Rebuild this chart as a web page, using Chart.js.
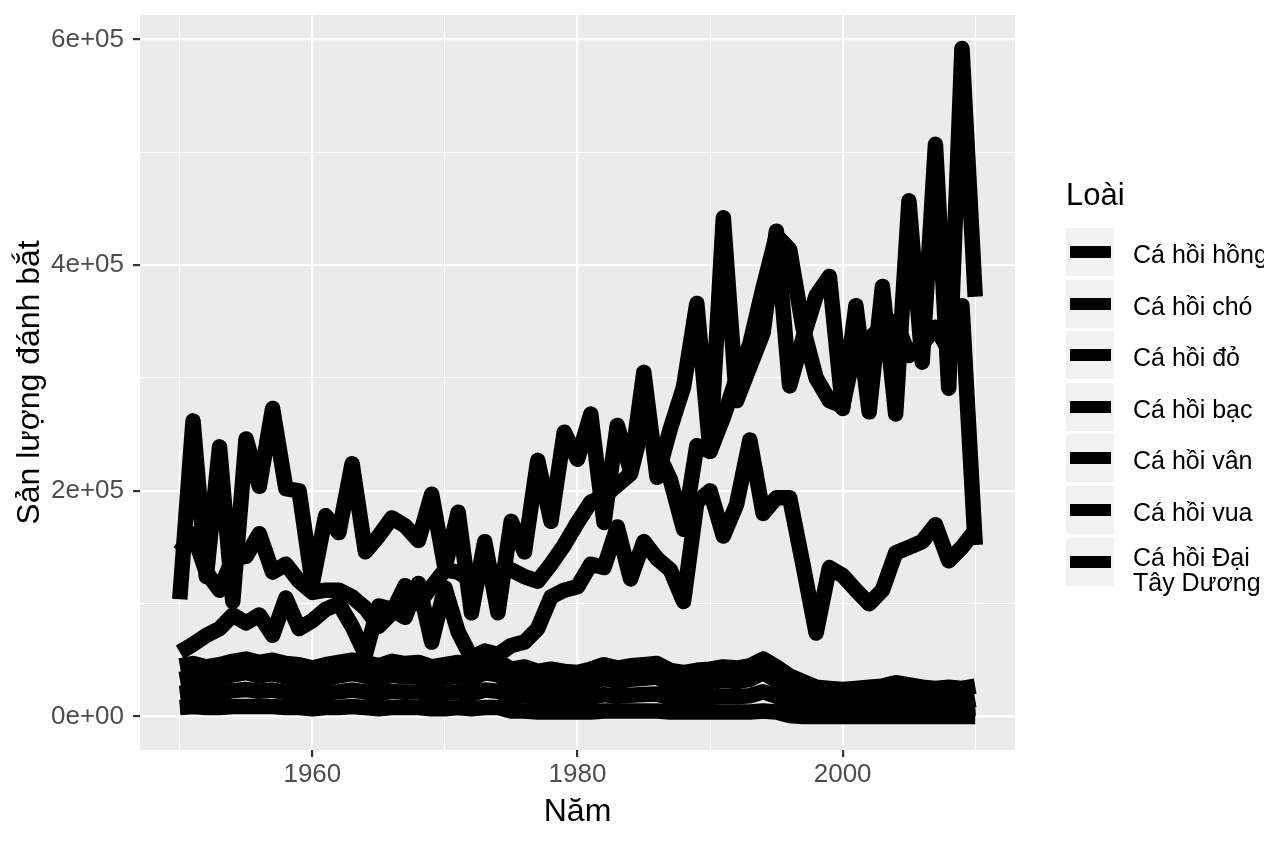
<!DOCTYPE html>
<html lang="vi">
<head>
<meta charset="utf-8">
<title>Sản lượng đánh bắt cá hồi</title>
<script src="https://cdn.jsdelivr.net/npm/chart.js@4.4.1/dist/chart.umd.min.js"></script>
<style>
    html, body { margin: 0; padding: 0; background: #fff; overflow: hidden; }
    #wrap { position: relative; width: 1264px; height: 848px; overflow: hidden;
            font-family: "Liberation Sans", Arial, sans-serif; }
    #chart { position: absolute; left: 0; top: 0; }
    .legend-title { position: absolute; left: 1066px; top: 180px; font-size: 31px; line-height: 30px; color: #000; }
    .key { position: absolute; left: 1066px; width: 48px; height: 48px; background: #f2f2f2; }
    .key i { position: absolute; left: 4px; right: 3px; top: 18px; height: 12px; background: #000; }
    .lab { position: absolute; left: 1133px; font-size: 25px; line-height: 24.7px; color: #000; white-space: nowrap; }
</style>
</head>
<body>
<div id="wrap">
    <canvas id="chart" width="1264" height="848"></canvas>
    <div id="legend"></div>
</div>
<script>
// data (tonnes)
const years = [1950, 1951, 1952, 1953, 1954, 1955, 1956, 1957, 1958, 1959,
    1960, 1961, 1962, 1963, 1964, 1965, 1966, 1967, 1968, 1969,
    1970, 1971, 1972, 1973, 1974, 1975, 1976, 1977, 1978, 1979,
    1980, 1981, 1982, 1983, 1984, 1985, 1986, 1987, 1988, 1989,
    1990, 1991, 1992, 1993, 1994, 1995, 1996, 1997, 1998, 1999,
    2000, 2001, 2002, 2003, 2004, 2005, 2006, 2007, 2008, 2009,
    2010];

const caHoiHong = [104000, 262000, 124000, 239000, 102000, 246000, 204000, 273000, 202000, 200000,
    118000, 178000, 163000, 224000, 146000, 160000, 176000, 169000, 156000, 197000,
    132000, 181000, 92000, 155000, 92000, 173000, 146000, 227000, 173000, 252000,
    228000, 268000, 172000, 258000, 218000, 305000, 212000, 255000, 292000, 366000,
    235000, 442000, 280000, 310000, 340000, 430000, 293000, 335000, 373000, 390000,
    273000, 364000, 270000, 381000, 268000, 457000, 314000, 507000, 291000, 592000,
    372000];

const caHoiCho = [146000, 162000, 128000, 112000, 140000, 142000, 162000, 128000, 135000, 120000,
    110000, 112000, 112000, 106000, 96000, 80000, 92000, 116000, 100000, 115000,
    130000, 128000, 120000, 130000, 128000, 130000, 124000, 120000, 135000, 152000,
    172000, 190000, 195000, 205000, 215000, 262000, 235000, 210000, 166000, 240000,
    235000, 265000, 300000, 330000, 380000, 426000, 414000, 345000, 300000, 280000,
    275000, 330000, 335000, 345000, 350000, 320000, 330000, 345000, 325000, 364000,
    152000];

const caHoiDo = [57000, 64000, 72000, 78000, 90000, 83000, 90000, 72000, 105000, 78000,
    85000, 95000, 100000, 80000, 55000, 98000, 95000, 88000, 118000, 66000,
    114000, 75000, 52000, 58000, 55000, 63000, 66000, 78000, 106000, 112000,
    115000, 135000, 132000, 168000, 122000, 155000, 140000, 130000, 102000, 190000,
    200000, 160000, 188000, 245000, 180000, 194000, 194000, 135000, 74000, 132000,
    125000, 112000, 100000, 112000, 145000, 150000, 155000, 170000, 138000, 150000,
    165000];

const caHoiBac = [45000, 47000, 44000, 46000, 49000, 51000, 48000, 50000, 47000, 46000,
    43000, 46000, 48000, 50000, 48000, 45000, 49000, 47000, 48000, 44000,
    46000, 48000, 45000, 51000, 49000, 42000, 44000, 40000, 42000, 40000,
    39000, 42000, 46000, 43000, 45000, 46000, 47000, 41000, 39000, 41000,
    42000, 44000, 43000, 45000, 51000, 44000, 36000, 31000, 26000, 25000,
    24000, 25000, 26000, 27000, 30000, 28000, 26000, 25000, 26000, 25000,
    27000];

const caHoiVan = [20500, 22000, 20000, 21000, 23000, 24000, 22500, 23500, 21500, 21000,
    19000, 21000, 22000, 23500, 22000, 20000, 22500, 21500, 22000, 19500,
    20500, 22000, 20000, 23500, 22500, 17500, 18500, 16000, 17000, 16000,
    15500, 17000, 19500, 18000, 19000, 19500, 20000, 16500, 15500, 16500,
    17000, 18000, 17500, 18500, 22000, 18000, 12500, 9500, 7000, 6500,
    6000, 6500, 7000, 7500, 9000, 8000, 7000, 6500, 7000, 6500,
    7500];

const caHoiVua = [33000, 35000, 32000, 34000, 37000, 39000, 36000, 38000, 35000, 34000,
    31000, 34000, 36000, 38000, 36000, 33000, 37000, 35000, 36000, 32000,
    34000, 36000, 33000, 39000, 37000, 30000, 32000, 28000, 30000, 28000,
    27000, 30000, 34000, 31000, 33000, 34000, 35000, 29000, 27000, 29000,
    30000, 32000, 31000, 33000, 39000, 32000, 24000, 19000, 14000, 13000,
    12000, 13000, 14000, 15000, 18000, 16000, 14000, 13000, 14000, 13000,
    15000];

const caHoiDaiTayDuong = [8000, 9000, 8000, 8000, 9000, 9000, 9000, 9000, 8000, 8000,
    7000, 8000, 8000, 9000, 8000, 7000, 8000, 8000, 8000, 7000,
    7000, 8000, 7000, 8000, 8000, 5000, 5000, 4000, 4000, 4000,
    4000, 4000, 5000, 5000, 5000, 5000, 5000, 4000, 4000, 4000,
    4000, 4000, 4000, 4000, 5000, 4000, 1000, 0, 0, 0,
    0, 0, 0, 0, 0, 0, 0, 0, 0, 0,
    0];

const speciesNames = ["Cá hồi hồng", "Cá hồi chó", "Cá hồi đỏ", "Cá hồi bạc",
    "Cá hồi vân", "Cá hồi vua", "Cá hồi Đại Tây Dương"];
const speciesValues = [caHoiHong, caHoiCho, caHoiDo, caHoiBac, caHoiVan, caHoiVua, caHoiDaiTayDuong];

const xTicks = [1950, 1960, 1970, 1980, 1990, 2000, 2010];
const xTickLabels = ["", "1960", "", "1980", "", "2000", ""];
const yTicks = [0, 100000, 200000, 300000, 400000, 500000, 600000];
const yTickLabels = ["0e+00", "", "2e+05", "", "4e+05", "", "6e+05"];

// ggplot-like 5% expansion of the data range
const allValues = speciesValues.flat();
const yMin = Math.min(...allValues), yMax = Math.max(...allValues);
const yPad = (yMax - yMin) * 0.05;
const xPad = (years[years.length - 1] - years[0]) * 0.05;

Chart.defaults.font.family = '"Liberation Sans", Arial, sans-serif';

const panelBg = {
    id: "panelBg",
    beforeDraw(chart) {
        const { ctx, chartArea: a } = chart;
        ctx.save();
        ctx.fillStyle = "#ebebeb";
        ctx.fillRect(a.left, a.top, a.right - a.left, a.bottom - a.top);
        ctx.restore();
    }
};

const isLabelled = (labels, ticks, value) => labels[ticks.indexOf(value)] !== "";

const ctx = document.getElementById("chart").getContext("2d");

new Chart(ctx, {
    type: "line",
    data: {
        datasets: speciesNames.map((name, i) => ({
            label: name,
            data: years.map((yr, j) => ({ x: yr, y: speciesValues[i][j] })),
            borderColor: "#000",
            borderWidth: 15.5,
            borderJoinStyle: "round",
            borderCapStyle: "butt",
            pointRadius: 0,
            tension: 0,
            fill: false
        }))
    },
    options: {
        responsive: false,
        animation: false,
        events: [],
        layout: { padding: { left: 0, right: 249, top: 15, bottom: 0 } },
        scales: {
            x: {
                type: "linear",
                min: years[0] - xPad,
                max: years[years.length - 1] + xPad,
                afterBuildTicks: s => { s.ticks = xTicks.map(v => ({ value: v })); },
                afterFit: s => { s.height = 98; s.paddingLeft = 0; s.paddingRight = 0; },
                ticks: {
                    callback: v => xTickLabels[xTicks.indexOf(v)],
                    color: "#4d4d4d",
                    font: { size: 26 },
                    padding: 2,
                    maxRotation: 0,
                    autoSkip: false
                },
                grid: {
                    color: "#fff",
                    lineWidth: c => (c.tick && isLabelled(xTickLabels, xTicks, c.tick.value)) ? 2.2 : 1.1,
                    tickColor: c => (c.tick && isLabelled(xTickLabels, xTicks, c.tick.value)) ? "#333" : "rgba(0,0,0,0)",
                    tickLength: 7,
                    tickWidth: 2.2
                },
                border: { display: false },
                title: {
                    display: true,
                    text: "Năm",
                    color: "#000",
                    font: { size: 32 },
                    padding: { top: 0, bottom: 17 }
                }
            },
            y: {
                min: yMin - yPad,
                max: yMax + yPad,
                afterBuildTicks: s => { s.ticks = yTicks.map(v => ({ value: v })); },
                afterFit: s => { s.width = 140; s.paddingTop = 0; s.paddingBottom = 0; },
                ticks: {
                    callback: v => yTickLabels[yTicks.indexOf(v)],
                    color: "#4d4d4d",
                    font: { size: 26 },
                    padding: 9,
                    autoSkip: false
                },
                grid: {
                    color: "#fff",
                    lineWidth: c => (c.tick && isLabelled(yTickLabels, yTicks, c.tick.value)) ? 2.2 : 1.1,
                    tickColor: c => (c.tick && isLabelled(yTickLabels, yTicks, c.tick.value)) ? "#333" : "rgba(0,0,0,0)",
                    tickLength: 7,
                    tickWidth: 2.2
                },
                border: { display: false },
                title: {
                    display: true,
                    text: "Sản lượng đánh bắt",
                    color: "#000",
                    font: { size: 32 },
                    padding: { top: 11, bottom: 0 }
                }
            }
        },
        plugins: {
            legend: { display: false },
            tooltip: { enabled: false }
        }
    },
    plugins: [panelBg]
});

// legend, ggplot style, beside the panel
const legend = document.getElementById("legend");
legend.innerHTML = '<div class="legend-title">Loài</div>';
speciesNames.forEach((name, i) => {
    const top = 228 + i * 51.6;
    const key = document.createElement("div");
    key.className = "key";
    key.style.top = top + "px";
    key.innerHTML = "<i></i>";
    legend.appendChild(key);

    const lab = document.createElement("div");
    lab.className = "lab";
    if (i === speciesNames.length - 1) {
        lab.style.top = (top + 7.5) + "px";
        lab.innerHTML = "Cá hồi Đại<br>Tây Dương";
    } else {
        lab.style.top = (top + 14) + "px";
        lab.textContent = name;
    }
    legend.appendChild(lab);
});
</script>
</body>
</html>
